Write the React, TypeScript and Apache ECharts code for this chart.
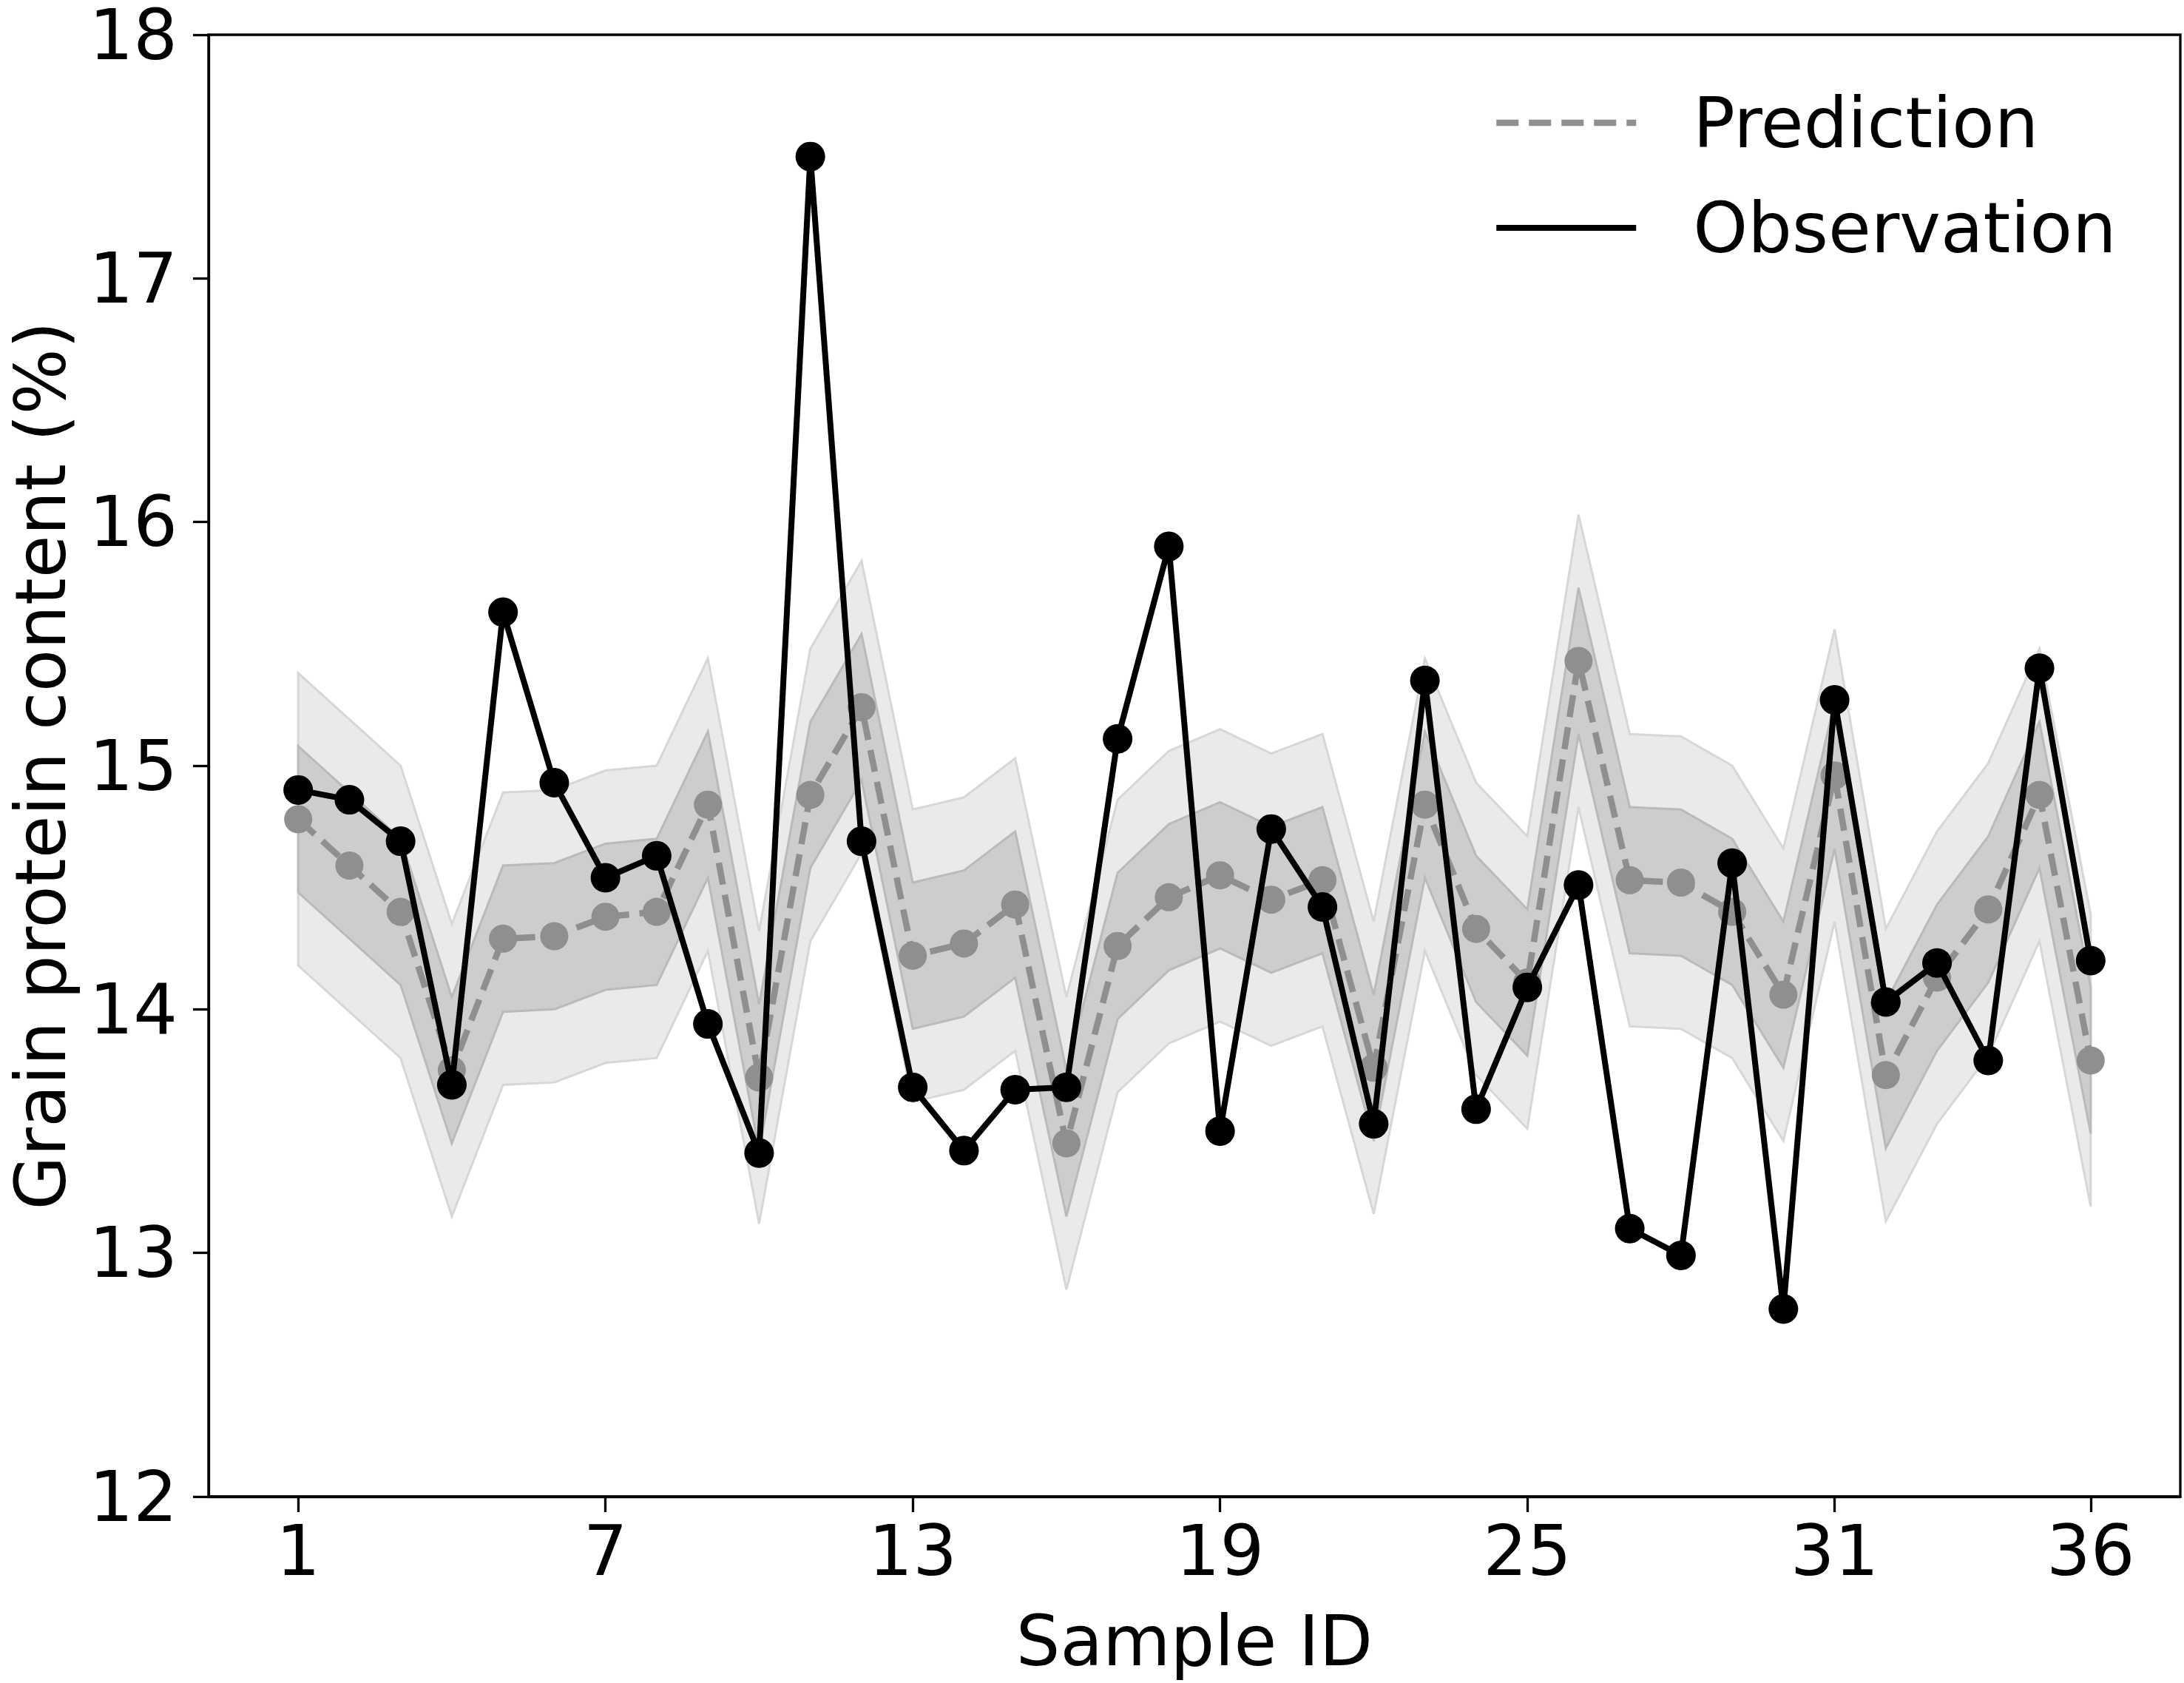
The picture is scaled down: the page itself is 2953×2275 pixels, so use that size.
import React, { useEffect, useRef } from "react";
import * as echarts from "echarts";

// ---- data ----
const sampleIds = [
  1, 2, 3, 4, 5, 6, 7, 8, 9, 10, 11, 12, 13, 14, 15, 16, 17, 18,
  19, 20, 21, 22, 23, 24, 25, 26, 27, 28, 29, 30, 31, 32, 33, 34, 35, 36,
];

const observation = [
  14.9, 14.86, 14.69, 13.69, 15.63, 14.93, 14.54, 14.63, 13.94, 13.41, 17.5, 14.69,
  13.68, 13.42, 13.67, 13.68, 15.11, 15.9, 13.5, 14.74, 14.42, 13.53, 15.35, 13.59,
  14.09, 14.51, 13.1, 12.99, 14.6, 12.77, 15.27, 14.03, 14.19, 13.79, 15.4, 14.2,
];

const prediction = [
  14.78, 14.59, 14.4, 13.75, 14.29, 14.3, 14.38, 14.4, 14.84, 13.72, 14.88, 15.24,
  14.22, 14.27, 14.43, 13.45, 14.26, 14.46, 14.55, 14.45, 14.53, 13.76, 14.84, 14.33,
  14.11, 15.43, 14.53, 14.52, 14.4, 14.06, 14.96, 13.73, 14.13, 14.41, 14.88, 13.79,
];

// half-widths of the two uncertainty bands around the prediction
const innerBandHalfWidth = 0.3;
const outerBandHalfWidth = 0.6;

const xTickValues = [1, 7, 13, 19, 25, 31, 36];
const yMin = 12;
const yMax = 18;
const yStep = 1;

const FONT = "DejaVu Sans";
const PRED_COLOR = "#8f8f8f";
const predLine = { color: PRED_COLOR, width: 8.5, type: [30, 14] };
const obsLine = { color: "#000", width: 8, type: "solid" };

export default function App() {
  const ref = useRef<HTMLDivElement>(null);

  useEffect(() => {
    document.body.style.margin = "0";
    if (!ref.current) return;
    const chart = echarts.init(ref.current, null, { renderer: "svg" });

    const bandPoints = (api: any, half: number) => {
      const upper = sampleIds.map((id, i) => api.coord([id, prediction[i] + half]));
      const lower = sampleIds
        .map((id, i) => api.coord([id, prediction[i] - half]))
        .reverse();
      return upper.concat(lower);
    };

    const axisLine = { show: true, onZero: false, lineStyle: { color: "#000", width: 3.3 } };

    const option: any = {
      animation: false,
      backgroundColor: "#fff",
      grid: {
        left: 282,
        top: 36,
        right: 5,
        bottom: 252,
        show: true,
        borderColor: "#000",
        borderWidth: 3.3,
        backgroundColor: "transparent",
      },
      legend: {
        data: [
          { name: "Prediction", itemStyle: { opacity: 0 }, lineStyle: predLine },
          { name: "Observation", itemStyle: { opacity: 0 }, lineStyle: obsLine },
        ],
        orient: "vertical",
        left: 2014,
        top: 111,
        itemWidth: 189,
        itemHeight: 40,
        itemGap: 42,
        selectedMode: false,
        textStyle: {
          fontFamily: FONT,
          fontSize: 94,
          color: "#000",
          lineHeight: 100,
          padding: [0, 0, 0, 72],
        },
      },
      xAxis: {
        type: "value",
        min: -0.75,
        max: 37.75,
        axisLine,
        axisTick: {
          show: true,
          customValues: xTickValues,
          length: 21,
          inside: false,
          lineStyle: { color: "#000", width: 3.3 },
        },
        axisLabel: {
          customValues: xTickValues,
          fontFamily: FONT,
          fontSize: 94,
          color: "#000",
          margin: 26,
        },
        splitLine: { show: false },
        name: "Sample ID",
        nameLocation: "middle",
        nameGap: 148,
        nameTextStyle: { fontFamily: FONT, fontSize: 94, color: "#000" },
      },
      yAxis: {
        type: "value",
        min: yMin,
        max: yMax,
        interval: yStep,
        axisLine,
        axisTick: {
          show: true,
          length: 21,
          inside: false,
          lineStyle: { color: "#000", width: 3.3 },
        },
        axisLabel: {
          fontFamily: FONT,
          fontSize: 94,
          lineHeight: 70,
          color: "#000",
          margin: 42,
        },
        splitLine: { show: false },
        name: "Grain protein content (%)",
        nameLocation: "middle",
        nameGap: 180,
        nameTextStyle: { fontFamily: FONT, fontSize: 94, color: "#000" },
      },
      series: [
        {
          type: "custom",
          name: "band",
          silent: true,
          z: 1,
          data: sampleIds.map((id, i) => [id, prediction[i]]),
          encode: { x: 0, y: 1 },
          renderItem: (params: any, api: any) => {
            if (params.dataIndex !== 0) return null;
            return {
              type: "group",
              children: [
                {
                  type: "polygon",
                  shape: { points: bandPoints(api, outerBandHalfWidth) },
                  style: { fill: "#eaeaea", stroke: "#d7d7d7", lineWidth: 3 },
                },
                {
                  type: "polygon",
                  shape: { points: bandPoints(api, innerBandHalfWidth) },
                  style: { fill: "#cdcdcd", stroke: "#bababa", lineWidth: 3 },
                },
              ],
            };
          },
        },
        {
          type: "line",
          name: "Prediction",
          z: 2,
          data: sampleIds.map((id, i) => [id, prediction[i]]),
          symbol: "circle",
          symbolSize: 38,
          itemStyle: { color: PRED_COLOR },
          lineStyle: predLine,
        },
        {
          type: "line",
          name: "Observation",
          z: 3,
          data: sampleIds.map((id, i) => [id, observation[i]]),
          symbol: "circle",
          symbolSize: 40,
          itemStyle: { color: "#000" },
          lineStyle: obsLine,
        },
      ],
    };

    chart.setOption(option);
    return () => chart.dispose();
  }, []);

  return <div ref={ref} style={{ width: 2953, height: 2275 }} />;
}
